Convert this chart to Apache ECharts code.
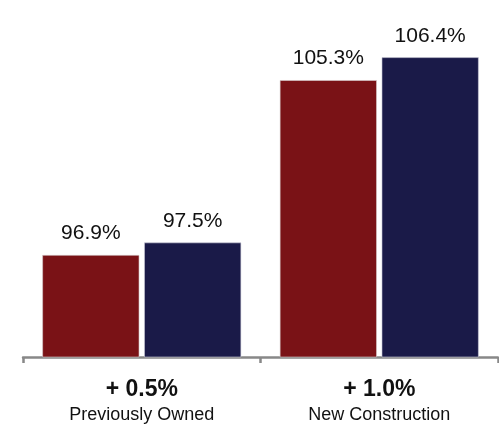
<!DOCTYPE html>
<html>
<head>
<meta charset="utf-8">
<script src="https://cdn.jsdelivr.net/npm/echarts@6/dist/echarts.min.js"></script>
<style>
  html, body { margin: 0; padding: 0; background: #fff; }
  #chart { width: 499px; height: 427px; }
</style>
</head>
<body>
<div id="chart"></div>
<script>
// data
var categories = ['Previously Owned', 'New Construction']
var changes = ['+ 0.5%', '+ 1.0%']
var before = [96.9, 105.3]
var after = [97.5, 106.4]

var chart = echarts.init(document.getElementById('chart'))

function barLabel() {
  return {
    show: true,
    position: 'top',
    distance: 11,
    formatter: function (p) { return p.value.toFixed(1) + '%' },
    fontFamily: 'Liberation Sans',
    fontSize: 21,
    color: '#111'
  }
}

chart.setOption({
  animation: false,
  grid: { left: 23, right: 1, top: 24, bottom: 70 },
  xAxis: {
    type: 'category',
    data: categories,
    axisLine: { lineStyle: { color: '#888', width: 2.5 } },
    axisTick: { show: true, length: 6, lineStyle: { color: '#888', width: 2.5 } },
    axisLabel: {
      margin: 19,
      formatter: function (v, i) {
        return '{a|' + changes[i] + '}\n{b|' + v + '}'
      },
      rich: {
        a: { fontFamily: 'Liberation Sans', fontSize: 23, fontWeight: 'bold', color: '#111', lineHeight: 28 },
        b: { fontFamily: 'Liberation Sans', fontSize: 18, color: '#111', lineHeight: 22 }
      }
    }
  },
  yAxis: {
    type: 'value',
    min: 92,
    max: 108,
    show: false
  },
  series: [
    {
      name: 'before',
      type: 'bar',
      data: before,
      barWidth: 97,
      barGap: '5%',
      itemStyle: { color: '#7a1216', borderColor: '#d9d0d0', borderWidth: 0.6 },
      label: barLabel()
    },
    {
      name: 'after',
      type: 'bar',
      data: after,
      barWidth: 97,
      itemStyle: { color: '#1a1a48', borderColor: '#d0d0dc', borderWidth: 0.6 },
      label: barLabel()
    }
  ]
})
</script>
</body>
</html>
